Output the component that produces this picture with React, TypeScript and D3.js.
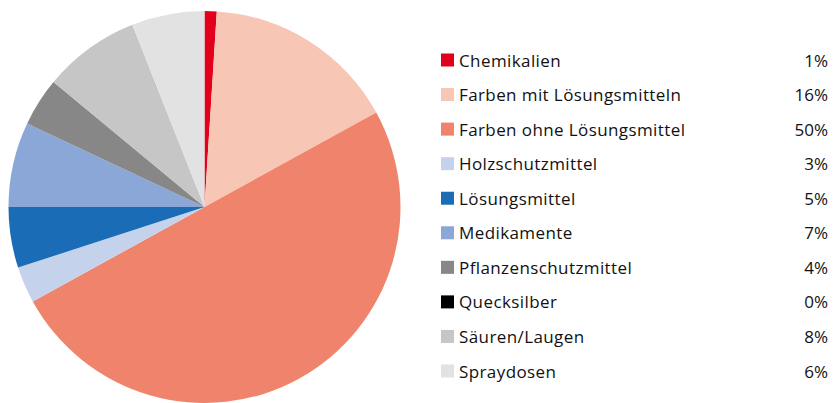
import React from "react";
import * as d3 from "d3";

const categories = [
  "Chemikalien",
  "Farben mit Lösungsmitteln",
  "Farben ohne Lösungsmittel",
  "Holzschutzmittel",
  "Lösungsmittel",
  "Medikamente",
  "Pflanzenschutzmittel",
  "Quecksilber",
  "Säuren/Laugen",
  "Spraydosen",
];
const values = [1, 16, 50, 3, 5, 7, 4, 0, 8, 6];
const labels = ["1%", "16%", "50%", "3%", "5%", "7%", "4%", "0%", "8%", "6%"];
const colors = [
  "#e2001a",
  "#f8c6b4",
  "#f0836b",
  "#c5d2ec",
  "#1a6cb6",
  "#8ba7d7",
  "#878787",
  "#000000",
  "#c6c6c6",
  "#e2e2e2",
];

export default function App() {
  const W = 834;
  const H = 403;
  const cx = 204.5;
  const cy = 207;
  const R = 196;
  const pie = d3.pie<number>().sort(null).value((d) => d);
  const arcs = pie(values);
  const arc = d3.arc<d3.PieArcDatum<number>>().innerRadius(0).outerRadius(R);
  const legendY = d3.scaleLinear().domain([0, 9]).range([60, 371]);
  const font = "'Open Sans', sans-serif";
  return (
    <svg
      width={W}
      height={H}
      style={{ position: "absolute", left: 0, top: 0, display: "block" }}
    >
      <rect width={W} height={H} fill="#fff" />
      <g transform={`translate(${cx},${cy})`}>
        {arcs.map((a, i) => (
          <path key={i} d={arc(a) || ""} fill={colors[i]} />
        ))}
      </g>
      <g fontFamily={font} fontSize={17} fill="#111">
        {categories.map((c, i) => {
          const y = legendY(i);
          return (
            <g key={c}>
              <rect x={441} y={y - 6.5} width={13} height={13} fill={colors[i]} />
              <text x={459} y={y} dominantBaseline="central" letterSpacing={0.4}>
                {c}
              </text>
              <text x={828} y={y} textAnchor="end" dominantBaseline="central">
                {labels[i]}
              </text>
            </g>
          );
        })}
      </g>
    </svg>
  );
}
